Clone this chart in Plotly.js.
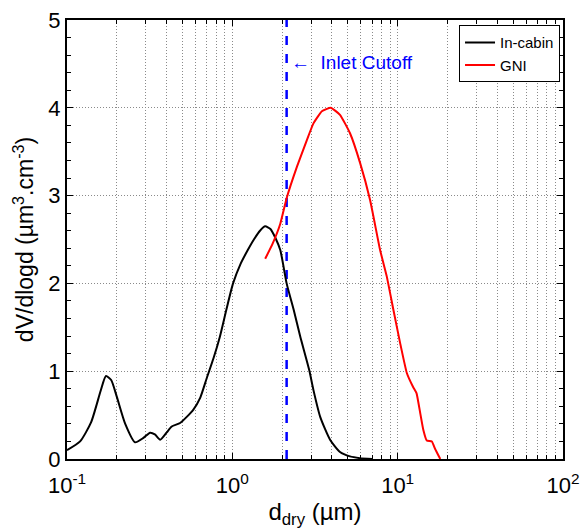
<!DOCTYPE html>
<html><head><meta charset="utf-8">
<script src="https://cdn.plot.ly/plotly-3.0.1.min.js"></script>
<style>html,body{margin:0;padding:0;background:#fff}#c{width:581px;height:531px}</style>
</head><body><div id="c"></div>
<script>
const cabinD = [0.1,0.12,0.14,0.16,0.172,0.185,0.2,0.225,0.258,0.29,0.318,0.34,0.366,0.40,0.43,0.483,0.53,0.58,0.64,0.70,0.77,0.84,0.92,1.01,1.12,1.24,1.35,1.47,1.58,1.70,1.82,1.95,2.13,2.35,2.57,2.92,3.09,3.40,3.90,4.48,5.15,5.9,7.0];
const cabinV = [0.10,0.20,0.42,0.78,0.945,0.90,0.71,0.40,0.19,0.24,0.30,0.28,0.22,0.30,0.37,0.41,0.48,0.56,0.70,0.92,1.15,1.39,1.70,2.00,2.22,2.38,2.50,2.60,2.65,2.62,2.52,2.38,2.00,1.70,1.40,1.01,0.79,0.48,0.22,0.08,0.03,0.01,0.0];
const gniD = [1.58,1.75,1.95,2.13,2.46,2.82,3.09,3.48,3.94,4.48,5.15,5.93,6.81,7.83,8.59,9.42,10.35,11.36,12.4,13.0,13.7,14.3,15.0,16.1,16.8,18.1];
const gniV = [2.28,2.45,2.68,2.97,3.33,3.63,3.82,3.96,4.00,3.92,3.71,3.37,2.95,2.38,2.08,1.70,1.32,0.98,0.82,0.75,0.52,0.33,0.21,0.20,0.12,0.0];
const cutoffD = [2.13, 2.13];
const cutoffV = [0, 5];
const xTickVals = [0.1, 1, 10, 100];
const xTickText = ['10<sup>-1</sup>','10<sup>0</sup>','10<sup>1</sup>','10<sup>2</sup>'];
const seriesNames = ['In-cabin', 'GNI'];

const gridStyle = {gridcolor:'#8a8a8a', griddash:'1px,2px', gridwidth:1};
const traces = [
  {x: cutoffD, y: cutoffV, mode:'lines', line:{color:'#0000ff', width:2.5, dash:'dash'}, showlegend:false, hoverinfo:'skip'},
  {x: cabinD, y: cabinV, mode:'lines', name: seriesNames[0], line:{color:'#000', width:2, shape:'spline', smoothing:0.6}},
  {x: gniD, y: gniV, mode:'lines', name: seriesNames[1], line:{color:'#ff0000', width:2, shape:'spline', smoothing:0.4}}
];
const layout = {
  width:581, height:531,
  margin:{l:67, r:18, t:20, b:72},
  paper_bgcolor:'#fff', plot_bgcolor:'#fff',
  font:{family:'Liberation Sans, Arial, sans-serif', color:'#000', size:20},
  showlegend:true,
  legend:{x:0.994, y:0.988, xanchor:'right', yanchor:'top', bgcolor:'#fff', bordercolor:'#000', borderwidth:1, font:{size:15}, tracegroupgap:0},
  xaxis:Object.assign({type:'log', range:[-1,2], tickvals:xTickVals, ticktext:xTickText,
    ticks:'inside', ticklen:6, tickwidth:1, tickcolor:'#000', mirror:'ticks', showline:true, linewidth:2, linecolor:'#000',
    showgrid:true, zeroline:false, ticklabelstandoff:6,
    minor:Object.assign({dtick:'D1', ticks:'inside', ticklen:4, tickcolor:'#000', showgrid:true}, gridStyle),
    tickfont:{size:22}, title:{text:'d<sub>dry</sub> (µm)', font:{size:24}, standoff:6}}, gridStyle),
  yaxis:Object.assign({range:[0,5], dtick:1, ticks:'inside', ticklen:6, tickcolor:'#000', mirror:'ticks', showline:true, linewidth:2, linecolor:'#000',
    showgrid:true, zeroline:false,
    minor:{dtick:0.2, ticks:'inside', ticklen:4, tickcolor:'#000', showgrid:false},
    tickfont:{size:22}, title:{text:'dV/dlogd (µm<sup>3</sup>.cm<sup>-3</sup>)', font:{size:23}, standoff:8}}, gridStyle),
  annotations:[{x:Math.log10(2.2), y:4.52, xref:'x', yref:'y', xanchor:'left', yanchor:'middle', showarrow:false,
    text:'← \u00a0Inlet Cutoff', font:{size:19, color:'#0000ff'}}]
};
Plotly.newPlot('c', traces, layout, {displayModeBar:false, staticPlot:true});
</script></body></html>
